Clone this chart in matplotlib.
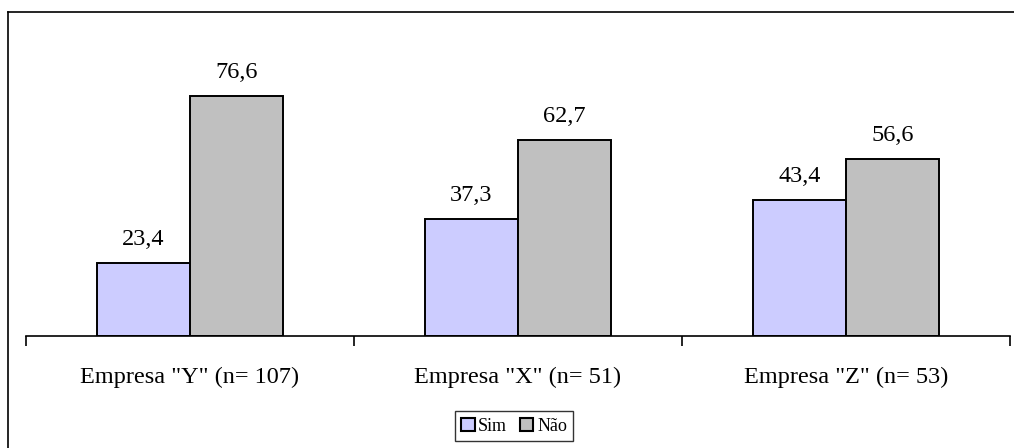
import matplotlib
matplotlib.use('Agg')
import matplotlib.pyplot as plt
from matplotlib.patches import Patch

categories = ['Empresa "Y" (n= 107)', 'Empresa "X" (n= 51)', 'Empresa "Z" (n= 53)']
sim = [23.4, 37.3, 43.4]
nao = [76.6, 62.7, 56.6]
series_names = ['Sim', 'Não']

plt.rcParams['font.family'] = ['Liberation Serif', 'DejaVu Serif']

W, H = 1014, 448
fig = plt.figure(figsize=(W / 100, H / 100), dpi=100)
ax = fig.add_axes([26 / W, (H - 336) / H, 984 / W, 313 / H])

# outer frame (only top and left visible)
fig.add_artist(plt.Line2D([8 / W, 1], [1 - 12 / H, 1 - 12 / H], color='black', lw=1.2))
fig.add_artist(plt.Line2D([8 / W, 8 / W], [0, 1 - 12 / H], color='black', lw=1.2))

w = 0.284
x = range(len(categories))
b1 = ax.bar([i - w / 2 for i in x], sim, w, color='#ccccff', edgecolor='black', lw=1.4)
b2 = ax.bar([i + w / 2 for i in x], nao, w, color='#c0c0c0', edgecolor='black', lw=1.4)

for bars, vals in ((b1, sim), (b2, nao)):
    for r, v in zip(bars, vals):
        ax.text(r.get_x() + r.get_width() / 2, v + 5.8, f'{v:.1f}'.replace('.', ','),
                ha='center', va='baseline', fontsize=17.5)

ax.set_xlim(-0.5, 2.5)
ax.set_ylim(0, 100)
for s in ['top', 'right', 'left']:
    ax.spines[s].set_visible(False)
ax.spines['bottom'].set_linewidth(1.2)
ax.set_yticks([])
ax.set_xticks([-0.5, 0.5, 1.5, 2.5])
ax.set_xticklabels([])
ax.tick_params(axis='x', length=7, width=1.2, direction='out')
for i, c in enumerate(categories):
    ax.text(i, -15, c, ha='center', va='baseline', fontsize=17.5)

leg = fig.legend(handles=[Patch(facecolor='#ccccff', edgecolor='black', lw=1.5),
                          Patch(facecolor='#c0c0c0', edgecolor='black', lw=1.5)],
                 labels=series_names, loc='center', bbox_to_anchor=(514 / W, 1 - 426 / H),
                 ncol=2, fontsize=13, frameon=True, fancybox=False, handlelength=0.75,
                 handleheight=0.75, handletextpad=0.2, columnspacing=0.7, borderpad=0.35,
                 borderaxespad=0)
leg.get_frame().set_edgecolor('black')
leg.get_frame().set_linewidth(1)

fig.savefig('out.png', dpi=100)
